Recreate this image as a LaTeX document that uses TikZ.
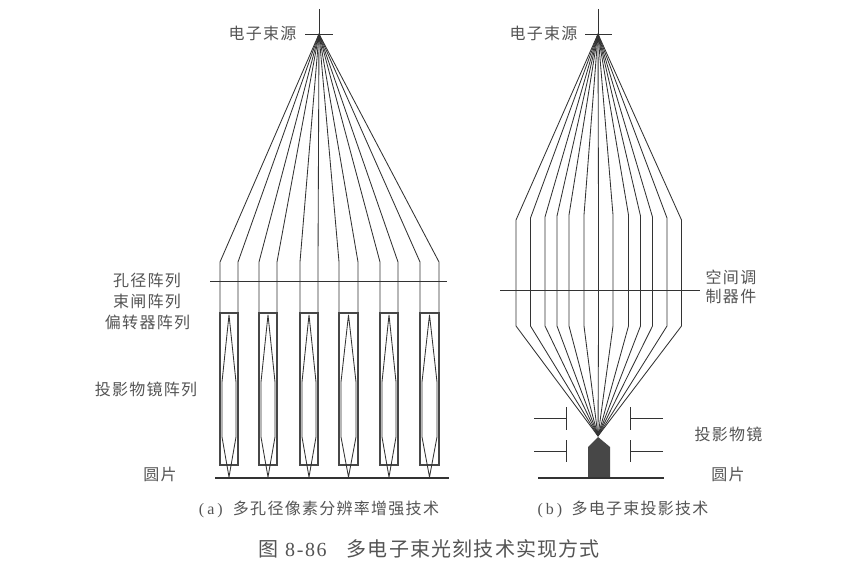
\documentclass[tikz,border=0pt]{standalone}
\usepackage{fontspec}
\newfontfamily\cjk[LetterSpace=8]{Noto Sans CJK SC}
\newfontfamily\cjkt[LetterSpace=6]{Noto Sans CJK SC}
\newfontfamily\lat{Liberation Serif}
\newfontfamily\latw[LetterSpace=8]{Liberation Serif}
\definecolor{ink}{gray}{0.2}
\definecolor{txt}{gray}{0.33}
\tikzset{
  ray/.style={draw=ink,line width=0.85pt,line join=round},
  heavy/.style={draw=ink!90,line width=1.35pt,line join=miter},
  lab/.style={text=txt,inner sep=0pt,font=\fontsize{16}{18}\selectfont\cjk,align=center},
  ttl/.style={text=txt,inner sep=0pt,font=\fontsize{20}{24}\selectfont\cjkt},
}
\begin{document}
\begin{tikzpicture}[x=1pt,y=-1pt]
\useasboundingbox (0,0) rectangle (858,564);
% sources
\coordinate (A) at (319,34);
\coordinate (B) at (598,34);
\coordinate (At) at (319,9); \coordinate (Al) at (305,34); \coordinate (Ar) at (333,34);
\coordinate (Bt) at (598,9); \coordinate (Bl) at (585,34); \coordinate (Br) at (612,34);
\draw[ray] (At) -- (A) (Al) -- (Ar) (Bt) -- (B) (Bl) -- (Br);
% (a) six channels
\foreach \l/\r/\c in {220/238/229,259/277/268,300/318/309,339/358/348.5,380/398/389,420/439/429.5}{
  \coordinate (kl) at (\l,262); \coordinate (kr) at (\r,262);
  \draw[ray] (A) -- (kl) -- (\l,313);
  \draw[ray] (A) -- (kr) -- (\r,313);
  \draw[heavy] (\l,313) rectangle (\r,465);
  \draw[ray] (\c,315) -- (\l+2,382) -- (\l+2,437) -- (\c,477) -- (\r-2,437) -- (\r-2,382) -- cycle;
}
\coordinate (a1) at (210,281); \coordinate (a2) at (447,281);
\draw[ray] (a1) -- (a2);
\coordinate (w1) at (215,478); \coordinate (w2) at (449,478);
\draw[ray,line width=1.1pt] (w1) -- (w2);
% (b) thirteen rays
\coordinate (F) at (598,436);
\foreach \x/\y in {516/220,530.5/218,545/217,557/216,569/215,584/215,598.5/215,613/215,628.5/215,640.5/216,652.5/217,667/218,681.5/220}{
  \coordinate (t) at (\x,\y); \coordinate (u) at (\x,326);
  \draw[ray] (B) -- (t) -- (u) -- (F);
}
\coordinate (s1) at (500,290); \coordinate (s2) at (700,290);
\draw[ray] (s1) -- (s2);
% projection lens plates
\draw[ray] (534,418) -- (566,418) (566,407) -- (566,430);
\draw[ray] (534,451) -- (566,451) (566,440) -- (566,462);
\draw[ray] (663,418) -- (630,418) (630,407) -- (630,430);
\draw[ray] (663,451) -- (630,451) (630,440) -- (630,462);
% wafer and spot
\fill[ink!90] (598,437) -- (610,447) -- (610,478) -- (588,478) -- (588,447) -- cycle;
\coordinate (w3) at (538,478); \coordinate (w4) at (664,478);
\draw[ray,line width=1.1pt] (w3) -- (w4);
% labels
\node[lab] (n1) at (262.5,33) {电子束源};
\node[lab] (n2) at (543.5,33) {电子束源};
\node[lab] (n3) at (147,280) {孔径阵列};
\node[lab] (n4) at (147,301) {束闸阵列};
\node[lab] (n5) at (147.5,322.5) {偏转器阵列};
\node[lab] (n6) at (146,389) {投影物镜阵列};
\node[lab] (n7) at (160,474) {圆片};
\node[lab] (n8) at (728,474) {圆片};
\node[lab] (n9) at (728.5,434) {投影物镜};
\node[lab] (n10) at (731,277) {空间调};
\node[lab] (n11) at (731,296) {制器件};
\node[lab] (c1) at (319,509) {\makebox[34pt][l]{\lat (\hspace{3pt}a\hspace{3pt})}多孔径像素分辨率增强技术};
\node[lab] (c2) at (623,509) {\makebox[34pt][l]{\lat (\hspace{3pt}b\hspace{3pt})}多电子束投影技术};
\node[ttl] (c3) at (429,549) {图\hspace{7pt}{\fontsize{20}{24}\selectfont\latw 8-86}\hspace{20pt}多电子束光刻技术实现方式};
\end{tikzpicture}
\end{document}
